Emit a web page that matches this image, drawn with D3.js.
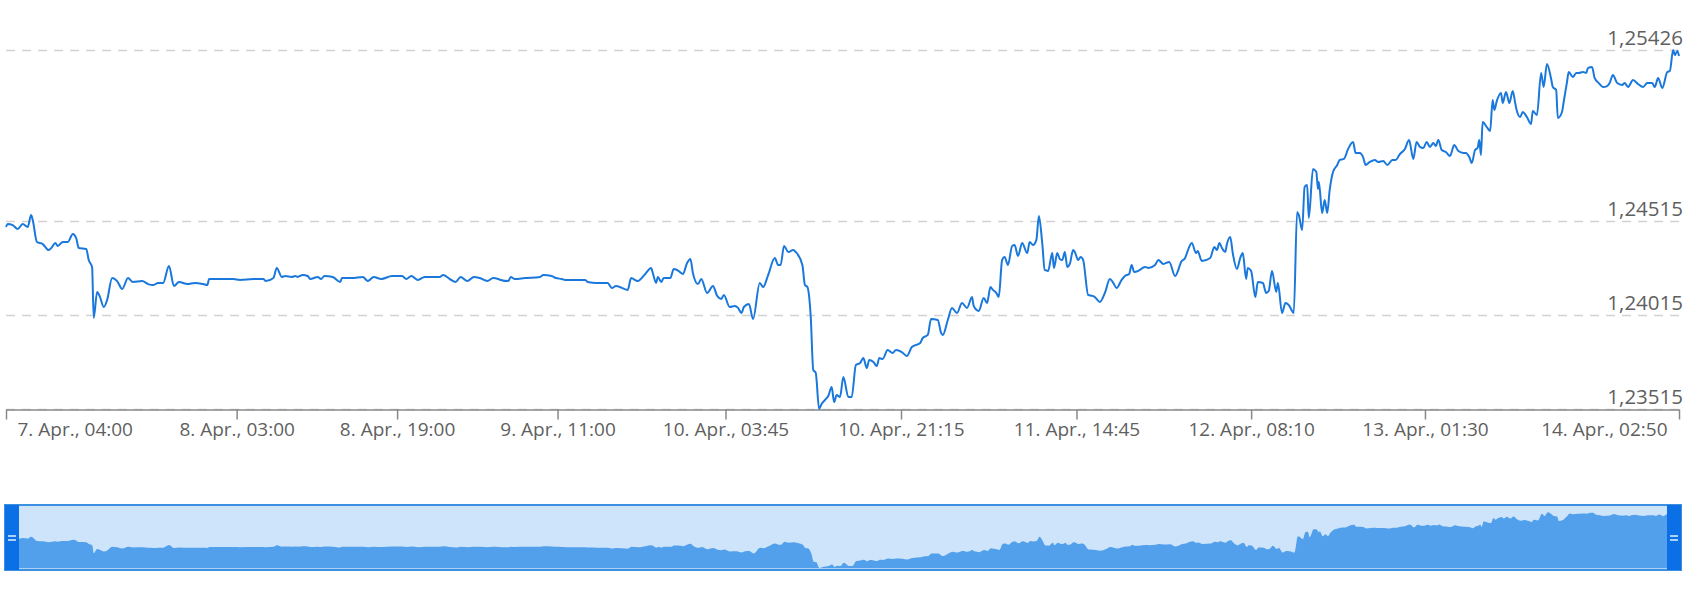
<!DOCTYPE html>
<html>
<head>
<meta charset="utf-8">
<script src="https://cdn.jsdelivr.net/npm/d3@7"></script>
<style>
  body { margin: 0; background: #fff; }
  text { font-family: "Open Sans", sans-serif; }
</style>
</head>
<body>
<div id="chart"></div>
<script>
// series: minutes after 7. Apr. 04:00 and the quote at that time
var minutes = [
  0,10,40,70,100,130,150,160,185,220,255,275,295,310,340,370,400,420,435,480,
  495,515,525,545,560,585,605,635,665,695,730,760,815,850,880,910,940,975,1005,1035,
  1085,1130,1180,1205,1215,1280,1360,1400,1480,1540,1555,1600,1620,1650,
  1670,1710,1730,1745,1775,1805,1820,1865,1885,1905,1955,2000,2010,2070,2135,2165,
  2200,2245,2310,2370,2395,2425,2465,2505,2595,2615,2655,2690,2720,2760,2800,2835,
  2880,2915,2945,2960,3005,3020,3045,3105,3195,3215,3265,3290,3325,3345,
  3375,3465,3480,3535,3600,3625,3650,3720,3740,3780,3825,3860,3870,3890,3900,3920,
  3935,3975,3995,4015,4050,4075,4095,4110,4140,4160,4195,4230,4255,4280,4295,4330,
  4360,4380,4400,4415,4445,4470,4510,4530,4560,4600,4620,4635,4655,4680,4710,4725,
  4765,4780,4795,4815,4830,4845,4865,4880,4900,4920,4940,4955,4970,4990,5010,5040,
  5060,5085,
  5110,5130,5150,5165,5190,5210,5225,5245,5275,5305,5325,5360,5390,5420,5470,5485,
  5515,5535,5575,5595,5605,5635,5660,5690,5720,5750,5780,5790,5820,5850,5870,5890,
  5905,5925,5940,5960,5975,5995,6020,6035,6055,6080,6110,6125,6145,6165,6180,6200,
  6215,6235,6260,6270,6290,6305,6320,6335,6350,6365,6385,6395,6415,6430,6445,6475,
  6500,6515,6545,6575,6605,6625,6645,6675,6695,6720,6735,6750,6775,
  6815,6835,6875,6895,6925,6960,6995,7035,7055,7070,7095,7120,7130,7155,7205,7230,
  7245,7260,7275,7295,7305,7325,7340,7365,7385,7400,7420,7430,7450,7475,7490,7520,
  7540,7555,7575,7600,7610,7635,7655,7675,7705,7725,7735,7755,7770,7785,7795,7820,
  7840,7850,7855,7875,7890,7905,7920,7940,7965,7980,8005,8030,8060,8075,8100,8120,
  8135,8160,8190,8210,8240,8265,8295,8315,8340,8370,8395,8420,8440,8460,
  8480,8500,8520,8540,8555,8570,8590,8615,8640,8665,8690,8720,8735,8755,8770,8790,
  8805,8815,8825,8835,8860,8880,8895,8905,8920,8945,8955,8975,8995,9015,9030,9040,
  9060,9075,9100,9125,9135,9160,9185,9200,9220,9245,9255,9275,9285,9310,9320,9340,
  9350,9375,9395,9410,9435,9455,9465,9490,9505,9530,9555,9580,9595,9615,9640,9670,
  9685,9705,9735,9765,9795,9820,9850,9865,9885,9910,9940,9955,9975,9985,10000,10010
];

var prices = [
  1.24484,1.24500,1.24494,1.24473,1.24500,1.24484,1.24548,1.24521,1.24404,1.24393,
  1.24361,1.24377,1.24399,1.24383,1.24404,1.24404,1.24447,1.24425,1.24372,1.24367,
  1.24308,1.24271,1.23999,1.24138,1.24117,1.24058,1.24095,1.24212,1.24196,1.24154,
  1.24212,1.24191,1.24196,1.24180,1.24175,1.24186,1.24186,1.24276,1.24170,1.24191,
  1.24180,1.24186,1.24180,1.24175,1.24207,1.24207,1.24207,1.24202,1.24207,1.24207,
  1.24196,1.24212,1.24266,1.24218,
  1.24223,1.24218,1.24223,1.24218,1.24228,1.24223,1.24207,1.24218,1.24207,1.24223,
  1.24218,1.24191,1.24212,1.24212,1.24218,1.24196,1.24218,1.24207,1.24223,1.24223,
  1.24207,1.24223,1.24202,1.24218,1.24218,1.24228,1.24207,1.24191,1.24218,1.24196,
  1.24218,1.24212,1.24196,1.24212,1.24207,1.24202,1.24196,1.24218,1.24207,1.24212,
  1.24218,1.24228,1.24223,1.24212,1.24207,1.24202,
  1.24202,1.24202,1.24191,1.24186,1.24186,1.24159,1.24170,1.24149,1.24212,1.24196,
  1.24234,1.24266,1.24239,1.24186,1.24218,1.24191,1.24212,1.24212,1.24260,1.24255,
  1.24234,1.24292,1.24314,1.24239,1.24180,1.24207,1.24133,1.24170,1.24117,1.24101,
  1.24122,1.24058,1.24063,1.24053,1.24026,1.24058,1.24074,1.23994,1.24186,1.24164,
  1.24228,1.24319,1.24282,1.24282,1.24383,1.24351,1.24361,1.24351,1.24282,1.24175,
  1.24164,1.24005,1.23723,1.23707,1.23515,1.23542,1.23563,1.23584,1.23632,1.23552,
  1.23590,1.23579,1.23685,1.23579,1.23579,1.23749,
  1.23760,1.23786,1.23733,1.23776,1.23765,1.23744,1.23786,1.23781,1.23829,1.23813,
  1.23829,1.23818,1.23797,1.23845,1.23866,1.23893,1.23909,1.23994,1.23989,1.23920,
  1.23909,1.23989,1.24053,1.24026,1.24079,1.24053,1.24111,1.24063,1.24037,1.24106,
  1.24079,1.24164,1.24149,1.24133,1.24111,1.24308,1.24324,1.24282,1.24383,1.24388,
  1.24329,1.24399,1.24345,1.24404,1.24388,1.24415,1.24542,1.24399,1.24255,1.24250,
  1.24345,1.24266,1.24345,1.24314,1.24308,1.24351,1.24271,1.24287,1.24361,1.24351,
  1.24308,1.24324,1.24308,1.24122,1.24117,1.24111,1.24085,1.24133,1.24207,1.24186,
  1.24159,1.24202,1.24223,1.24234,1.24282,1.24244,1.24250,
  1.24271,1.24266,1.24282,1.24308,1.24287,1.24298,1.24223,1.24303,1.24319,1.24356,
  1.24399,1.24345,1.24356,1.24303,1.24319,1.24377,1.24361,1.24399,1.24372,1.24351,
  1.24393,1.24431,1.24345,1.24260,1.24319,1.24345,1.24207,1.24266,1.24250,1.24111,
  1.24191,1.24186,1.24133,1.24143,1.24250,1.24138,1.24186,1.24026,1.24079,1.24069,
  1.24026,1.24564,1.24548,1.24468,1.24697,1.24707,1.24532,1.24793,1.24777,1.24686,
  1.24723,1.24558,1.24628,1.24558,1.24681,1.24777,1.24814,1.24841,1.24846,1.24899,
  1.24936,1.24878,1.24878,1.24856,1.24814,1.24830,1.24841,1.24830,1.24835,1.24814,
  1.24841,1.24841,1.24872,1.24899,1.24947,1.24846,1.24936,1.24910,
  1.24904,1.24936,1.24910,1.24931,1.24915,1.24947,1.24894,1.24883,1.24862,1.24920,
  1.24888,1.24878,1.24878,1.24856,1.24825,1.24894,1.24904,1.24947,1.24867,1.25043,
  1.25016,1.24995,1.25160,1.25107,1.25155,1.25197,1.25144,1.25203,1.25144,1.25208,
  1.25144,1.25101,1.25069,1.25096,1.25069,1.25032,1.25101,1.25080,1.25304,1.25229,
  1.25352,1.25272,1.25229,1.25213,1.25064,1.25096,1.25149,1.25256,1.25309,1.25282,
  1.25304,1.25304,1.25309,1.25304,1.25330,1.25336,1.25277,1.25250,1.25229,1.25234,
  1.25250,1.25293,1.25250,1.25240,1.25250,1.25229,1.25266,1.25245,1.25229,1.25250,
  1.25250,1.25229,1.25277,1.25224,1.25309,1.25314,1.25426,1.25399,1.25421,1.25394
];

var tickTimes = [
  "2018-04-07 04:00", "2018-04-08 03:00", "2018-04-08 19:00", "2018-04-09 11:00",
  "2018-04-10 03:45", "2018-04-10 21:15", "2018-04-11 14:45", "2018-04-12 08:10",
  "2018-04-13 01:30", "2018-04-14 02:50"
];

var yTicks = [1.23515, 1.24015, 1.24515, 1.25426];

// svg size and plot box

var svgWidth = 1702;
var svgHeight = 604;

var plot = { left: 6, right: 1679, top: 50, bottom: 409 };
var nav = { left: 5, right: 1681, top: 505, bottom: 570, handle: 14 };

var lineColor = "#1a78dc";
var textColor = "#5f5f5f";

var parseTime = d3.timeParse("%Y-%m-%d %H:%M");
var tickDates = tickTimes.map(parseTime);
var startTime = tickDates[0];

var data = minutes.map(function(m, i) {
  return { t: d3.timeMinute.offset(startTime, m), v: prices[i] };
});

var svg = d3.select("#chart")
  .append("svg")
  .attr("width", svgWidth)
  .attr("height", svgHeight)
  .style("display", "block");

var xScale = d3.scaleTime()
  .domain([startTime, tickDates[tickDates.length - 1]])
  .range([plot.left, plot.right]);

var yScale = d3.scaleLinear()
  .domain([yTicks[0], yTicks[yTicks.length - 1]])
  .range([plot.bottom, plot.top]);

var commaFormat = d3.formatLocale({ decimal: ",", thousands: ".", grouping: [3], currency: ["", ""] }).format(".5f");

// dashed grid lines + labels on the right

svg.append("g")
  .selectAll("line")
  .data(yTicks)
  .enter()
  .append("line")
  .attr("x1", plot.left)
  .attr("x2", plot.right)
  .attr("y1", d => Math.round(yScale(d)) + 0.5)
  .attr("y2", d => Math.round(yScale(d)) + 0.5)
  .attr("stroke", "#d2d2d2")
  .attr("stroke-width", 1.5)
  .attr("stroke-dasharray", "9,7");

svg.append("g")
  .selectAll("text")
  .data(yTicks)
  .enter()
  .append("text")
  .attr("x", 1683)
  .attr("y", d => yScale(d) - 5)
  .attr("text-anchor", "end")
  .attr("font-size", "20.5px")
  .attr("fill", textColor)
  .text(d => commaFormat(d));

// x axis

var xAxis = d3.axisBottom(xScale)
  .tickValues(tickDates)
  .tickFormat(d3.timeFormat("%-d. %b., %H:%M"))
  .tickSize(10)
  .tickSizeOuter(0);

var xAxisG = svg.append("g")
  .attr("transform", "translate(0," + (plot.bottom + 0.5) + ")")
  .call(xAxis);

xAxisG.select(".domain").attr("stroke", "#888").attr("stroke-width", 1.5);
xAxisG.selectAll(".tick line").attr("stroke", "#888").attr("stroke-width", 1.5);
xAxisG.selectAll(".tick text")
  .attr("y", 26)
  .attr("dy", 0)
  .attr("font-size", "19px")
  .attr("font-family", "Open Sans, sans-serif")
  .attr("fill", textColor);

// first and last labels pushed inside the plot
var tickTexts = xAxisG.selectAll(".tick text").nodes();
d3.select(tickTexts[0]).attr("text-anchor", "start").attr("x", 11);
d3.select(tickTexts[tickTexts.length - 1]).attr("text-anchor", "end").attr("x", -12);

// price line

var line = d3.line()
  .curve(d3.curveMonotoneX)
  .x(d => xScale(d.t))
  .y(d => yScale(d.v));

svg.append("path")
  .datum(data)
  .attr("d", line)
  .attr("fill", "none")
  .attr("stroke", lineColor)
  .attr("stroke-width", 2)
  .attr("stroke-linejoin", "round");

// navigator

var navX = d3.scaleTime()
  .domain(xScale.domain())
  .range([nav.left + 1, nav.right - 1]);

var navY = d3.scaleLinear()
  .domain(d3.extent(prices))
  .range([nav.bottom - 2, nav.top + 5]);

svg.append("rect")
  .attr("x", nav.left)
  .attr("y", nav.top)
  .attr("width", nav.right - nav.left)
  .attr("height", nav.bottom - nav.top)
  .attr("fill", "#cde4fa");

var navArea = d3.area()
  .curve(d3.curveMonotoneX)
  .x(d => navX(d.t))
  .y0(nav.bottom - 2)
  .y1(d => navY(d.v));

svg.append("path")
  .datum(data)
  .attr("d", navArea)
  .attr("fill", "#529fec");

svg.append("line")
  .attr("x1", nav.left)
  .attr("x2", nav.right)
  .attr("y1", nav.bottom - 1.5)
  .attr("y2", nav.bottom - 1.5)
  .attr("stroke", "#a9d0f6")
  .attr("stroke-width", 1);

svg.append("rect")
  .attr("x", nav.left)
  .attr("y", nav.top)
  .attr("width", nav.right - nav.left)
  .attr("height", nav.bottom - nav.top)
  .attr("fill", "none")
  .attr("stroke", "#3d8fe0")
  .attr("stroke-width", 2);

var handles = svg.append("g")
  .selectAll("g")
  .data([nav.left, nav.right - nav.handle])
  .enter()
  .append("g");

handles.append("rect")
  .attr("x", d => d)
  .attr("y", nav.top)
  .attr("width", nav.handle)
  .attr("height", nav.bottom - nav.top)
  .attr("fill", "#0b6fe6");

[536, 540].forEach(function(yy) {
  handles.append("line")
    .attr("x1", d => d + 3)
    .attr("x2", d => d + nav.handle - 3)
    .attr("y1", yy)
    .attr("y2", yy)
    .attr("stroke", "#e6f1fd")
    .attr("stroke-width", 1.5);
});
</script>
</body>
</html>
